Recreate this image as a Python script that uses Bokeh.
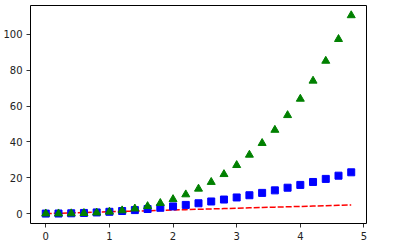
from bokeh.plotting import figure
from bokeh.models import Range1d, FixedTicker
from bokeh.embed import file_html
from bokeh.resources import INLINE

t = [0.0, 0.2, 0.4, 0.6, 0.8, 1.0, 1.2, 1.4, 1.6, 1.8, 2.0, 2.2, 2.4, 2.6,
     2.8, 3.0, 3.2, 3.4, 3.6, 3.8, 4.0, 4.2, 4.4, 4.6, 4.8]
linear = [0.0, 0.2, 0.4, 0.6, 0.8, 1.0, 1.2, 1.4, 1.6, 1.8, 2.0, 2.2, 2.4, 2.6,
          2.8, 3.0, 3.2, 3.4, 3.6, 3.8, 4.0, 4.2, 4.4, 4.6, 4.8]
squares = [0.0, 0.04, 0.16, 0.36, 0.64, 1.0, 1.44, 1.96, 2.56, 3.24, 4.0, 4.84,
           5.76, 6.76, 7.84, 9.0, 10.24, 11.56, 12.96, 14.44, 16.0, 17.64,
           19.36, 21.16, 23.04]
cubes = [0.0, 0.008, 0.064, 0.216, 0.512, 1.0, 1.728, 2.744, 4.096, 5.832, 8.0,
         10.648, 13.824, 17.576, 21.952, 27.0, 32.768, 39.304, 46.656, 54.872,
         64.0, 74.088, 85.184, 97.336, 110.592]
x_ticks = [0, 1, 2, 3, 4, 5]
y_ticks = [0, 20, 40, 60, 80, 100]

p = figure(width=408, height=249, output_backend="svg", toolbar_location=None,
           x_range=Range1d(-0.24, 5.04), y_range=Range1d(-5.5296, 116.1216),
           min_border_left=30, min_border_right=42, min_border_top=5,
           min_border_bottom=26)
p.background_fill_color = "white"
p.border_fill_color = "white"
p.outline_line_color = "black"
p.outline_line_width = 1
p.grid.visible = False

for ax in (p.xaxis[0], p.yaxis[0]):
    ax.axis_line_color = None
    ax.major_tick_in = 0
    ax.major_tick_out = 4
    ax.major_tick_line_color = "black"
    ax.major_tick_line_width = 0.8
    ax.minor_tick_line_color = None
    ax.major_label_text_font = "DejaVu Sans"
    ax.major_label_text_font_size = "10px"
    ax.major_label_text_color = "#222222"
    ax.major_label_standoff = 4
p.xaxis.ticker = FixedTicker(ticks=x_ticks)
p.yaxis.ticker = FixedTicker(ticks=y_ticks)

p.line(t, linear, line_color="#ff0000", line_width=1.5, line_dash="6 2")
p.scatter(t, squares, marker="square", size=7, fill_color="#0000ff",
          line_color="#0000ff", line_width=1)
p.scatter(t, cubes, marker="triangle", size=8, fill_color="#008000",
          line_color="#008000", line_width=1)

open("out.html", "w").write(file_html(p, INLINE))
